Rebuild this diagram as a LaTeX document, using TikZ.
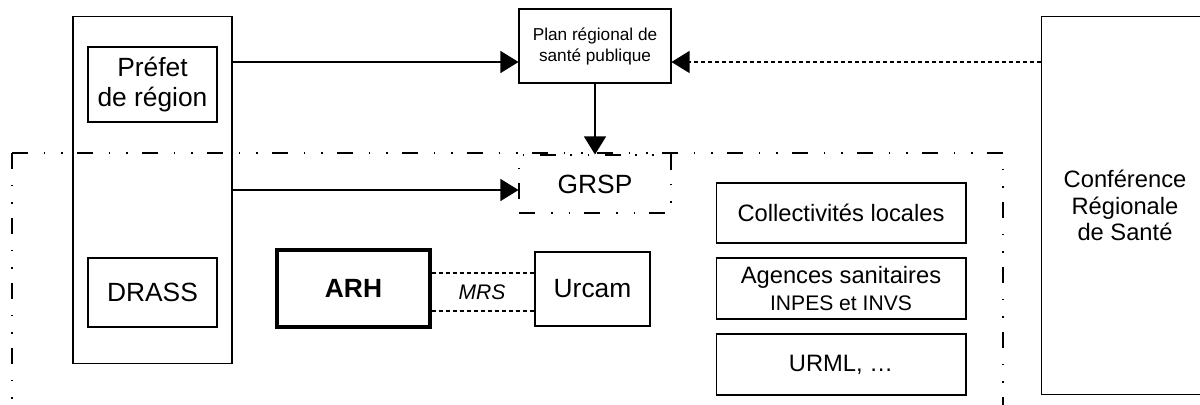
\documentclass[tikz,border=0pt]{standalone}
\usepackage{fontspec}
\setmainfont{Liberation Sans}
\usetikzlibrary{arrows.meta}

\begin{document}
\begin{tikzpicture}[x=0.02cm, y=-0.02cm, line width=0.6pt,
    boite/.style={draw, inner sep=0pt, align=center, font=\fontsize{13.5}{15.3}\selectfont},
    grand/.style={font=\fontsize{15}{17}\selectfont},
    pointille/.style={dash pattern=on 3.2mm off 3.2mm on 0.3mm off 3.2mm on 0.3mm off 2.8mm},
    tirets/.style={dash pattern=on 0.8mm off 0.6mm},
    fleche/.style={-{Triangle[length=3.6mm, width=4.4mm]}}]
    \useasboundingbox (0,0) rectangle (1200,405);
    % zone GRSP
    \draw [pointille] (12,153) -- (12,405);
    \draw [pointille] (12,153) -- (1003,153) -- (1003,405);
    \node [boite, minimum width=3.18cm, minimum height=6.96cm] (cadre) at (152.5,190) {};
    \node [boite, grand, minimum width=2.58cm, minimum height=1.5cm] (prefet) at (152.5,84.5) {Préfet\\de région};
    \node [boite, grand, minimum width=2.58cm, minimum height=1.38cm] (drass) at (152.5,292.5) {DRASS};
    \node [boite, font=\fontsize{9.8}{12}\selectfont, minimum width=3.04cm, minimum height=1.48cm] (plan) at (595,46) {Plan régional de\\santé publique};
    \node [boite, grand, pointille, minimum width=3.04cm, minimum height=1.16cm] (grsp) at (595,184) {GRSP};
    \node [boite, font=\fontsize{15}{17}\selectfont\bfseries, line width=1.8pt, minimum width=3.06cm, minimum height=1.54cm] (arh) at (353.5,288.5) {ARH};
    \node [boite, grand, minimum width=2.3cm, minimum height=1.48cm] (urcam) at (592.5,289) {Urcam};
    \node [boite, minimum width=5cm, minimum height=1.2cm] (coll) at (841,213) {Collectivités locales};
    \node [boite, minimum width=5cm, minimum height=1.22cm] (agences) at (841,288.5) {Agences sanitaires\\\fontsize{12}{12.5}\selectfont INPES et INVS};
    \node [boite, minimum width=5cm, minimum height=1.22cm] (urml) at (841,364.5) {URML, …};
    \node [boite, minimum width=3.36cm, minimum height=7.58cm] (conf) at (1125,205.5) {Conférence\\Régionale\\de Santé};
    \node [font=\fontsize{12}{14}\selectfont\itshape] (mrs) at (482,292) {MRS};
    % liens
    \draw [fleche] (cadre.east |- 0,62) -- (plan.west |- 0,62);
    \draw [fleche, tirets] (conf.west |- 0,62) -- (plan.east |- 0,62);
    \draw [fleche] (plan) -- (grsp);
    \draw [fleche] (cadre.east |- 0,190) -- (grsp.west |- 0,190);
    \draw [tirets] (arh.east |- 0,273) -- (urcam.west |- 0,273);
    \draw [tirets] (arh.east |- 0,311) -- (urcam.west |- 0,311);
\end{tikzpicture}
\end{document}
